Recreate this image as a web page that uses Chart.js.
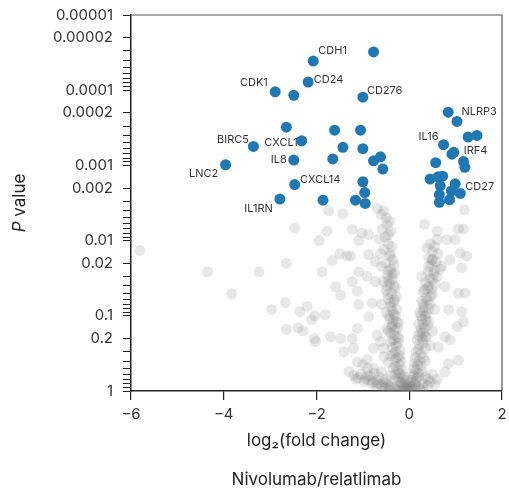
<!DOCTYPE html>
<html>
<head>
<meta charset="utf-8">
<script src="https://cdn.jsdelivr.net/npm/chart.js@4.4.0/dist/chart.umd.min.js"></script>
<style>
  body { margin: 0; background: #fff; }
  #wrap { width: 509px; height: 488px; }
</style>
</head>
<body>
<div id="wrap"><canvas id="myChart"></canvas></div>
<script>
// significant genes (blue), '' = no label
const sigGenes = ['', 'CDH1', 'CD24', 'CDK1', '', 'CD276', '', '', '', 'BIRC5',
  'CXCL1', '', '', 'IL8', 'LNC2', '', '', '', '', 'CXCL14',
  '', 'IL1RN', '', '', '', '', '', 'NLRP3', '', '',
  'IL16', '', 'IRF4', '', '', '', '', '', '', '',
  '', '', 'CD27', '', '', ''];
const sigFoldChange = [-0.77, -2.07, -2.18, -2.89, -2.49, -1.0, -2.65, -1.61, -1.05, -3.36,
  -2.32, -1.43, -1.0, -2.49, -3.96, -1.65, -0.77, -0.62, -0.57, -2.47,
  -1.0, -2.79, -1.86, -1.16, -0.96, -0.95, 0.84, 1.03, 1.27, 1.46,
  0.74, 0.92, 0.96, 1.17, 1.20, 0.57, 0.45, 0.62, 0.72, 0.67,
  0.99, 0.91, 1.10, 0.65, 0.65, 0.87];
const sigPValue = [0.000031, 0.000041, 0.000078, 0.000105, 0.000117, 0.000124, 0.00031, 0.00034, 0.00034, 0.00056,
  0.00047, 0.000575, 0.0006, 0.00085, 0.00098, 0.00082, 0.00087, 0.00077, 0.00112, 0.0018,
  0.00165, 0.0028, 0.0029, 0.0029, 0.0023, 0.0032, 0.000196, 0.00026, 0.00042, 0.0004,
  0.00053, 0.00071, 0.00067, 0.00089, 0.00106, 0.00092, 0.00152, 0.00142, 0.00139, 0.00187,
  0.00176, 0.00219, 0.00236, 0.00245, 0.0031, 0.00286];

// other genes (grey): [log2 fold change, P value]
const otherGenes = [
  [-5.81, 0.0135], [-4.35, 0.026], [-3.83, 0.051], [-3.24, 0.026], [-2.65, 0.020], [-2.47, 0.0068],
  [-1.94, 0.010], [-1.88, 0.026], [-2.67, 0.067], [-2.97, 0.083], [-2.36, 0.088], [-2.2, 0.075],
  [-2.04, 0.10], [-2.11, 0.113], [-2.65, 0.151], [-2.40, 0.144], [-2.29, 0.158], [-2.04, 0.20],
  [-2.02, 0.22], [-1.81, 0.097],
  [-1.74, 0.0040], [-1.43, 0.0044], [-1.77, 0.0075], [-1.23, 0.0071], [-1.02, 0.0079], [-1.09, 0.010],
  [-0.69, 0.0037], [-0.55, 0.0040], [-0.48, 0.0061], [-0.45, 0.0083], [-0.875, 0.0083], [-1.66, 0.0184],
  [-1.5, 0.015], [-1.35, 0.016], [-1.27, 0.016], [-1.09, 0.026], [-0.875, 0.0153], [-0.73, 0.019],
  [-0.91, 0.030], [-0.73, 0.035], [-1.59, 0.041], [-1.48, 0.053], [-1.23, 0.035], [-1.12, 0.047],
  [-1.09, 0.071], [-0.80, 0.068], [-0.875, 0.103], [-1.12, 0.147], [-1.23, 0.20], [-1.48, 0.20],
  [-1.70, 0.19], [-1.41, 0.30], [-1.2, 0.27], [-1.12, 0.41], [-0.91, 0.38], [-0.77, 0.50],
  [-0.62, 0.22], [-0.48, 0.147], [-0.69, 0.18], [-0.77, 0.27], [-0.55, 0.35],
  [-0.6, 0.0045], [-0.5, 0.005], [-0.42, 0.0055], [-0.58, 0.007], [-0.4, 0.0075], [-0.52, 0.009],
  [-0.65, 0.0095], [-0.45, 0.011], [-0.38, 0.012], [-0.55, 0.013], [-0.62, 0.015], [-0.42, 0.016],
  [-0.35, 0.018], [-0.5, 0.02], [-0.6, 0.022], [-0.4, 0.024], [-0.32, 0.027], [-0.47, 0.029],
  [-0.36, 0.032], [-0.55, 0.035], [-0.42, 0.038], [-0.3, 0.042], [-0.5, 0.046], [-0.38, 0.05],
  [-0.28, 0.055], [-0.45, 0.06], [-0.34, 0.066], [-0.6, 0.07], [-0.4, 0.075], [-0.27, 0.082],
  [-0.5, 0.09], [-0.33, 0.095], [-0.42, 0.11], [-0.28, 0.12], [-0.36, 0.13], [-0.25, 0.145],
  [-0.45, 0.16], [-0.32, 0.18], [-0.22, 0.2], [-0.4, 0.22], [-0.28, 0.25], [-0.55, 0.27],
  [-0.2, 0.29], [-0.35, 0.32], [-0.25, 0.36], [-0.18, 0.4], [-0.45, 0.42], [-0.3, 0.47],
  [-0.15, 0.52], [-0.6, 0.55], [-0.22, 0.58], [-0.12, 0.65], [-0.4, 0.62], [-0.08, 0.72],
  [-0.3, 0.7], [-0.05, 0.82], [-0.18, 0.8], [-0.02, 0.92], [-0.1, 0.9],
  [-1.3, 0.55], [-1.05, 0.6], [-0.95, 0.68], [-0.85, 0.63], [-0.7, 0.72], [-0.55, 0.76],
  [-0.8, 0.8], [-0.45, 0.85], [-0.6, 0.88], [-0.35, 0.9], [-0.25, 0.95], [-1.15, 0.7],
  [-0.9, 0.5], [-1.0, 0.45],
  [-0.44, 0.034], [-0.33, 0.04], [-0.46, 0.052], [-0.31, 0.061], [-0.4, 0.068], [-0.36, 0.085],
  [-0.3, 0.1], [-0.44, 0.1], [-0.35, 0.115], [-0.23, 0.125], [-0.38, 0.14], [-0.3, 0.155],
  [-0.4, 0.17], [-0.26, 0.19], [-0.34, 0.21], [-0.24, 0.23], [-0.36, 0.26], [-0.3, 0.3],
  [-0.4, 0.34], [-0.2, 0.34], [-0.3, 0.38], [-0.22, 0.44], [-0.35, 0.5], [-0.25, 0.52],
  [-0.18, 0.6], [-0.3, 0.6], [-0.14, 0.7], [-0.24, 0.68], [-0.1, 0.78], [-0.2, 0.75],
  [-0.06, 0.88], [-0.14, 0.85], [-0.03, 0.97], [-0.08, 0.95], [-0.4, 0.015], [-0.33, 0.021],
  [-0.45, 0.025], [-0.37, 0.028], [-0.48, 0.04],
  [-1.2, 0.62], [-1.1, 0.66], [-0.98, 0.74], [-0.88, 0.72], [-0.78, 0.76], [-0.68, 0.8],
  [-0.58, 0.84], [-0.5, 0.8], [-0.4, 0.88], [-0.7, 0.86], [-0.52, 0.92], [-0.3, 0.94],
  [-0.42, 0.97], [-0.2, 0.98], [-0.15, 0.96], [-0.9, 0.62], [-0.65, 0.65], [-0.5, 0.7],
  [-0.75, 0.58],
  [1.19, 0.0039], [0.33, 0.0061], [0.60, 0.0075], [1.06, 0.007], [1.17, 0.007], [0.38, 0.0125],
  [0.60, 0.0097], [0.81, 0.0097], [0.99, 0.0097], [1.10, 0.0146], [1.24, 0.016], [1.13, 0.023],
  [0.88, 0.018], [0.49, 0.018], [0.27, 0.030], [0.70, 0.022], [0.77, 0.041], [1.06, 0.05],
  [1.20, 0.05], [0.85, 0.083], [1.13, 0.088], [1.17, 0.12], [1.03, 0.139], [0.77, 0.19],
  [0.88, 0.21], [0.63, 0.26], [1.06, 0.39], [0.85, 0.43], [0.77, 0.56], [0.34, 0.19],
  [0.45, 0.011], [0.55, 0.012], [0.5, 0.014], [0.62, 0.015], [0.42, 0.017], [0.58, 0.019],
  [0.48, 0.021], [0.66, 0.024], [0.4, 0.026], [0.53, 0.028], [0.45, 0.032], [0.35, 0.036],
  [0.56, 0.038], [0.4, 0.043], [0.3, 0.048], [0.5, 0.052], [0.36, 0.058], [0.27, 0.064],
  [0.45, 0.07], [0.32, 0.077], [0.55, 0.082], [0.22, 0.09], [0.38, 0.095], [0.28, 0.11],
  [0.42, 0.12], [0.2, 0.13], [0.33, 0.145], [0.5, 0.16], [0.24, 0.17], [0.37, 0.19],
  [0.17, 0.21], [0.3, 0.23], [0.45, 0.25], [0.2, 0.28], [0.25, 0.32], [0.13, 0.36],
  [0.35, 0.4], [0.18, 0.45], [0.1, 0.5], [0.28, 0.55], [0.06, 0.6], [0.2, 0.65],
  [0.04, 0.72], [0.14, 0.75], [0.02, 0.85], [0.08, 0.9], [0.5, 0.6], [0.4, 0.7],
  [0.3, 0.8], [0.55, 0.82], [0.2, 0.88],
  [0.5, 0.033], [0.42, 0.04], [0.33, 0.045], [0.46, 0.055], [0.4, 0.062], [0.3, 0.07],
  [0.42, 0.08], [0.3, 0.085], [0.34, 0.1], [0.25, 0.1], [0.36, 0.115], [0.3, 0.13],
  [0.4, 0.135], [0.26, 0.15], [0.3, 0.17], [0.2, 0.18], [0.28, 0.2], [0.22, 0.24],
  [0.35, 0.27], [0.15, 0.3], [0.3, 0.36], [0.22, 0.4], [0.12, 0.42], [0.25, 0.46],
  [0.15, 0.52], [0.2, 0.58], [0.1, 0.62], [0.15, 0.68], [0.08, 0.76], [0.12, 0.82],
  [0.05, 0.88], [0.03, 0.95], [0.14, 0.95], [0.5, 0.018], [0.42, 0.022], [0.55, 0.025],
  [0.6, 0.03], [0.48, 0.045], [0.3, 0.9], [0.4, 0.85], [0.25, 0.95], [0.45, 0.75],
  [0.6, 0.7], [0.35, 0.65]
];

const xTicks = [-6, -4, -2, 0, 2];
const yTickValues = [0.00001, 0.00002, 0.0001, 0.0002, 0.001, 0.002, 0.01, 0.02, 0.1, 0.2, 1];
const yTickLabels = ['0.00001', '0.00002', '0.0001', '0.0002', '0.001', '0.002', '0.01', '0.02', '0.1', '0.2', '1'];

const xTitle = 'log\u2082(fold change)';
const xSubTitle = 'Nivolumab/relatlimab';
const yTitleItalic = 'P';
const yTitleRest = ' value';

// where each gene name sits relative to its dot: [dx, dy, align]
const labelPlace = {
  CDH1: [5, -10.5, 'left'], CD24: [5.5, -2, 'left'], CDK1: [-7.4, -9.3, 'right'],
  CD276: [4, -7, 'left'], BIRC5: [-4.4, -7, 'right'], CXCL1: [-4, 2, 'right'],
  IL8: [-7, 0, 'right'], LNC2: [-7.3, 8.5, 'right'], CXCL14: [5.3, -5, 'left'],
  IL1RN: [-7, 9.5, 'right'], NLRP3: [4.4, -9.7, 'left'], IL16: [-5, -8.3, 'right'],
  IRF4: [10, -1.7, 'left'], CD27: [5, -7, 'left']
};

const FONT = 'Inter, "Noto Sans", sans-serif';

// log axis tick marks: 1..9 per decade
let yAllTicks = [];
for (let e = -5; e < 0; e++) {
  for (let m = 1; m <= 9; m++) {
    yAllTicks.push(Number((m * Math.pow(10, e)).toPrecision(6)));
  }
}
yAllTicks.push(1);

function yLabelFor(v) {
  for (let i = 0; i < yTickValues.length; i++) {
    if (Math.abs(v / yTickValues[i] - 1) < 1e-6) return yTickLabels[i];
  }
  return '';
}

const geneLabels = {
  id: 'geneLabels',
  beforeDatasetsDraw(chart) {
    const c = chart.ctx;
    const meta = chart.getDatasetMeta(0);
    c.save();
    c.font = '11px ' + FONT;
    c.fillStyle = '#333';
    c.textBaseline = 'middle';
    sigGenes.forEach((name, i) => {
      if (!name) return;
      const p = meta.data[i];
      const pl = labelPlace[name];
      c.textAlign = pl[2];
      c.fillText(name, p.x + pl[0], p.y + pl[1]);
    });
    c.restore();
  }
};

const frameAndTitles = {
  id: 'frameAndTitles',
  afterDraw(chart) {
    const c = chart.ctx;
    const a = chart.chartArea;
    c.save();
    c.strokeStyle = '#555';
    c.lineWidth = 1.2;
    c.beginPath();
    c.moveTo(a.left, a.top);
    c.lineTo(a.right, a.top);
    c.lineTo(a.right, a.bottom);
    c.stroke();

    const cx = (a.left + a.right) / 2;
    c.fillStyle = '#222';
    c.textAlign = 'center';
    c.textBaseline = 'middle';
    c.font = '17px ' + FONT;
    c.fillText(xTitle, cx, 441);
    c.fillText(xSubTitle, cx, 480);

    // y title with italic P
    c.translate(20, (a.top + a.bottom) / 2);
    c.rotate(-Math.PI / 2);
    c.font = 'italic 17px ' + FONT;
    const w1 = c.measureText(yTitleItalic).width;
    c.font = '17px ' + FONT;
    const w2 = c.measureText(yTitleRest).width;
    c.textAlign = 'left';
    c.font = 'italic 17px ' + FONT;
    c.fillText(yTitleItalic, -(w1 + w2) / 2, 0);
    c.font = '17px ' + FONT;
    c.fillText(yTitleRest, -(w1 + w2) / 2 + w1, 0);
    c.restore();
  }
};

const ctx = document.getElementById('myChart');

new Chart(ctx, {
  type: 'scatter',
  data: {
    datasets: [
      {
        label: 'Significant',
        data: sigFoldChange.map((x, i) => ({ x: x, y: sigPValue[i] })),
        backgroundColor: '#1f77b4',
        borderWidth: 0,
        pointRadius: 5.5,
        pointHoverRadius: 5.5
      },
      {
        label: 'Other',
        data: otherGenes.map(d => ({ x: d[0], y: d[1] })),
        backgroundColor: 'rgba(120,120,120,0.17)',
        borderWidth: 0,
        pointRadius: 5.5,
        pointHoverRadius: 5.5
      }
    ]
  },
  options: {
    responsive: true,
    maintainAspectRatio: false,
    animation: false,
    layout: { padding: { top: 15, right: 7, left: 0, bottom: 0 } },
    plugins: {
      legend: { display: false },
      tooltip: { enabled: false }
    },
    scales: {
      x: {
        type: 'linear',
        min: -6,
        max: 2,
        afterFit(scale) {
          scale.height = 97;
          scale.paddingLeft = 0;
          scale.paddingRight = 0;
        },
        afterBuildTicks(scale) { scale.ticks = xTicks.map(v => ({ value: v })); },
        grid: { drawOnChartArea: false, color: '#222', tickLength: 9, lineWidth: 1.2 },
        border: { color: '#222', width: 1.5 },
        ticks: {
          padding: 5,
          color: '#333',
          font: { family: FONT, size: 15 },
          callback: v => String(v).replace('-', '\u2212')
        }
      },
      y: {
        type: 'logarithmic',
        reverse: true,
        min: 0.00001,
        max: 1,
        afterFit(scale) {
          scale.width = 131;
          scale.paddingTop = 0;
          scale.paddingBottom = 0;
        },
        afterBuildTicks(scale) { scale.ticks = yAllTicks.map(v => ({ value: v })); },
        grid: { drawOnChartArea: false, color: '#222', tickLength: 8, lineWidth: 1 },
        border: { color: '#222', width: 1.5 },
        ticks: {
          autoSkip: false,
          padding: 10,
          color: '#333',
          font: { family: FONT, size: 15 },
          callback: v => yLabelFor(v)
        }
      }
    }
  },
  plugins: [geneLabels, frameAndTitles]
});
</script>
</body>
</html>
